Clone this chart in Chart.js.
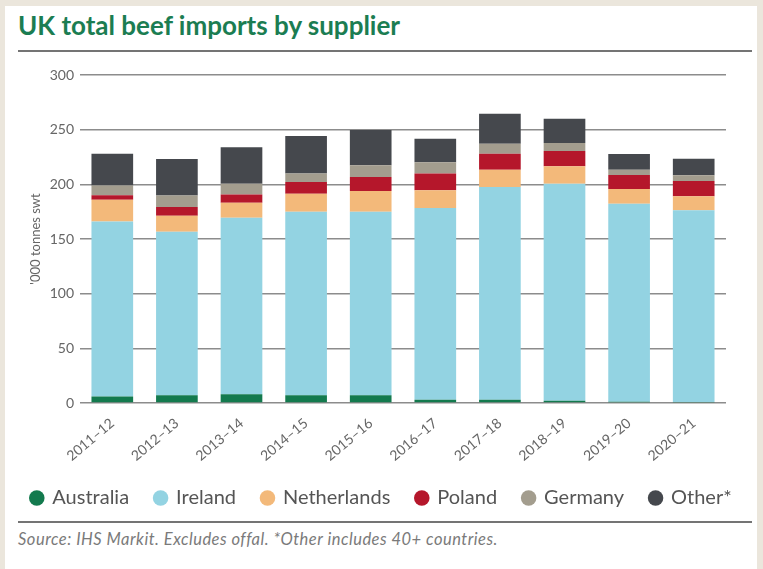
<!DOCTYPE html>
<html>
<head>
<meta charset="utf-8">
<script src="https://cdn.jsdelivr.net/npm/chart.js@4"></script>
<style>
  html, body { margin: 0; padding: 0; background: #ebe6dc; }
  #panel { position: absolute; left: 5px; top: 6px; width: 752px; height: 563px; background: #fff; }
  #title { position: absolute; left: 18px; top: 9px; font: 700 26px Lato, sans-serif; color: #1b7d52; white-space: nowrap; }
  .rule { position: absolute; left: 18px; width: 734px; height: 2px; background: #747474; }
  #source { position: absolute; left: 18px; top: 529px; font: italic 16.5px Lato, sans-serif; letter-spacing: 0.5px; color: #7a7a7a; white-space: nowrap; }
  #wrap { position: absolute; left: 0; top: 0; width: 763px; height: 520px; }
</style>
</head>
<body>
<div id="panel"></div>
<div id="title">UK total beef imports by supplier</div>
<div class="rule" style="top:50px"></div>
<div id="wrap"><canvas id="chart"></canvas></div>
<div class="rule" style="top:521px"></div>
<div id="source">Source: IHS Markit. Excludes offal. *Other includes 40+ countries.</div>
<script>
const years = ['2011–12', '2012–13', '2013–14', '2014–15', '2015–16', '2016–17', '2017–18', '2018–19', '2019–20', '2020–21'];
const australia = [6, 7, 8, 7, 7, 3, 3, 2, 1.2, 1];
const ireland = [160, 149.6, 161.5, 168, 168, 175.4, 194.6, 198.6, 181.1, 175.2];
const netherlands = [20, 14.6, 13.7, 16.5, 19, 16.1, 15.8, 15.9, 13.4, 12.8];
const poland = [4, 8, 7.6, 10.7, 12.8, 15.3, 14.6, 14, 12.8, 14];
const germany = [9, 10.5, 9.7, 7.6, 10.7, 10.3, 9.2, 7.3, 4.9, 5.2];
const other = [29, 33.5, 33.5, 34.4, 32.3, 21.7, 27.4, 22.2, 14.3, 15.3];
const yTicks = [0, 50, 100, 150, 200, 250, 300];

const THEME = {
  australia: '#137a4e', ireland: '#93d3e2', netherlands: '#f3b97a',
  poland: '#b5172b', germany: '#a39d8e', other: '#45484d',
  grid: '#8c8c8c', text: '#666'
};

const series = [
  { label: 'Australia', data: australia, color: THEME.australia },
  { label: 'Ireland', data: ireland, color: THEME.ireland },
  { label: 'Netherlands', data: netherlands, color: THEME.netherlands },
  { label: 'Poland', data: poland, color: THEME.poland },
  { label: 'Germany', data: germany, color: THEME.germany },
  { label: 'Other*', data: other, color: THEME.other }
];

new Chart(document.getElementById('chart'), {
  type: 'bar',
  data: {
    labels: years,
    datasets: series.map(s => ({
      label: s.label, data: s.data, backgroundColor: s.color, borderWidth: 0,
      categoryPercentage: 1, barPercentage: 0.645
    }))
  },
  options: {
    responsive: true,
    maintainAspectRatio: false,
    animation: false,
    layout: { padding: { left: 0, right: 0, top: 75, bottom: 2 } },
    plugins: {
      tooltip: { enabled: false },
      legend: {
        position: 'bottom',
        labels: {
          usePointStyle: true, pointStyle: 'circle', boxWidth: 11, boxHeight: 11,
          padding: 26, color: '#555', font: { family: 'Lato', size: 20 }
        }
      }
    },
    scales: {
      x: {
        stacked: true,
        grid: { display: false },
        border: { display: false },
        ticks: { color: THEME.text, font: { family: 'Lato', size: 14 }, maxRotation: 40, minRotation: 40, padding: 4 },
        afterFit: s => { s.height = 59; }
      },
      y: {
        stacked: true, min: 0, max: 300,
        afterBuildTicks: s => { s.ticks = yTicks.map(v => ({ value: v })); },
        grid: { color: THEME.grid, lineWidth: 1.5, drawTicks: false },
        border: { display: false },
        ticks: { color: THEME.text, font: { family: 'Lato', size: 14 }, padding: 6 },
        title: { display: true, text: "'000 tonnes swt", color: THEME.text, font: { family: 'Lato', size: 13 }, padding: { top: 28, bottom: 0 } },
        afterFit: s => { s.width = 80; }
      },
      pad: {
        type: 'linear', position: 'right', display: true,
        grid: { display: false }, border: { display: false }, ticks: { display: false },
        afterFit: s => { s.width = 37; }
      }
    }
  }
});
</script>
</body>
</html>
